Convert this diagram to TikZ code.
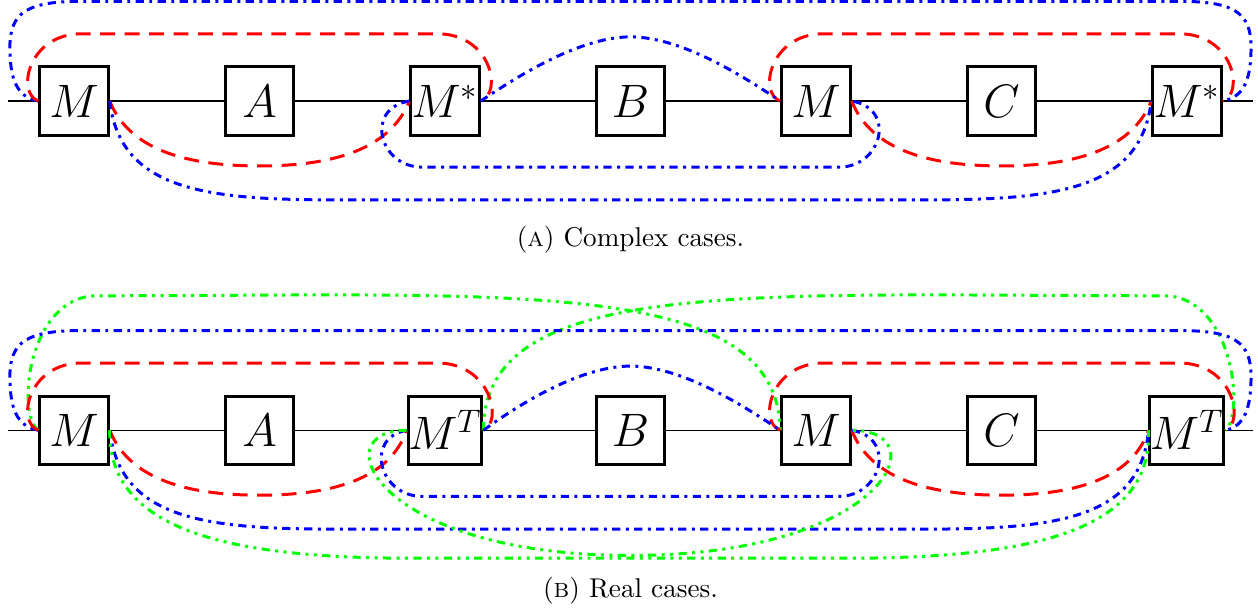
\documentclass[tikz,border=0pt]{standalone}
\begin{document}
\begin{tikzpicture}[x=1cm,y=1cm,
  tens/.style={draw,line width=1.1pt,minimum size=0.885cm,inner sep=0pt,font=\LARGE},
  redleg/.style={red,line width=1.1pt,dash pattern=on 5.5pt off 3.5pt},
  blueleg/.style={blue,line width=1.1pt,dashdotted},
  greenleg/.style={green,line width=1.1pt,dashdotdotted}]
\useasboundingbox (-0.958,-6.60) rectangle (15.32,1.307);
% (a) complex cases
\coordinate (cl) at (-0.86,0); \coordinate (cr) at (15.26,0);
\node[tens] (cm1) at (0,0) {$M$};
\node[tens] (ca) at (2.4,0) {$A$};
\node[tens] (cs1) at (4.8,0) {$M^*$};
\node[tens] (cb) at (7.2,0) {$B$};
\node[tens] (cm2) at (9.6,0) {$M$};
\node[tens] (cc) at (12.0,0) {$C$};
\node[tens] (cs2) at (14.4,0) {$M^*$};
\draw[line width=0.5pt] (cl) -- (cm1) -- (ca) -- (cs1) -- (cb) -- (cm2) -- (cc) -- (cs2) -- (cr);
% over the top
\draw[blueleg] (cm1.west) .. controls (-0.75,0.05) and (-0.83,0.3) .. (-0.83,0.7) .. controls (-0.83,1.15) and (-0.6,1.29) .. (0.1,1.29) -- (14.3,1.29) .. controls (15.0,1.29) and (15.23,1.15) .. (15.23,0.7) .. controls (15.23,0.3) and (15.15,0.05) .. (cs2.east);
\draw[redleg] (cm1.west) .. controls (-0.75,0.1) and (-0.6,0.87) .. (0.1,0.87) -- (4.7,0.87) .. controls (5.4,0.87) and (5.55,0.1) .. (cs1.east);
\draw[redleg] (cm2.west) .. controls (8.85,0.1) and (9.0,0.87) .. (9.7,0.87) -- (14.3,0.87) .. controls (15.0,0.87) and (15.15,0.1) .. (cs2.east);
\draw[blueleg] (cs1.east) .. controls (5.64,0.25) and (6.5,0.83) .. (7.2,0.83) .. controls (7.9,0.83) and (8.76,0.25) .. (cm2.west);
% underneath
\draw[redleg] (cm1.east) .. controls (0.72,-0.65) and (1.5,-0.84) .. (2.4,-0.84) .. controls (3.3,-0.84) and (4.08,-0.65) .. (cs1.west);
\draw[redleg] (cm2.east) .. controls (10.32,-0.65) and (11.1,-0.84) .. (12.0,-0.84) .. controls (12.9,-0.84) and (13.68,-0.65) .. (cs2.west);
\draw[blueleg] (cs1.west) .. controls (3.75,-0.1) and (3.95,-0.855) .. (4.5,-0.855) -- (9.9,-0.855) .. controls (10.45,-0.855) and (10.65,-0.1) .. (cm2.east);
\draw[blueleg] (cm1.east) .. controls (0.6,-1.2) and (1.8,-1.28) .. (3.5,-1.28) -- (10.9,-1.28) .. controls (12.6,-1.28) and (13.8,-1.2) .. (cs2.west);
\node (capa) at (7.2,-1.80) {(\textsc{a}) Complex cases.};
% (b) real cases
\begin{scope}[yshift=-4.26cm]
\coordinate (rl) at (-0.86,0); \coordinate (rr) at (15.26,0);
\node[tens] (rm1) at (0,0) {$M$};
\node[tens] (ra) at (2.4,0) {$A$};
\node[tens] (rt1) at (4.8,0) {$M^T$};
\node[tens] (rb) at (7.2,0) {$B$};
\node[tens] (rm2) at (9.6,0) {$M$};
\node[tens] (rc) at (12.0,0) {$C$};
\node[tens] (rt2) at (14.4,0) {$M^T$};
\draw[line width=0.5pt] (rl) -- (rm1) -- (ra) -- (rt1) -- (rb) -- (rm2) -- (rc) -- (rt2) -- (rr);
% over the top
\draw[greenleg] (rm1.west) .. controls (-0.75,0.2) and (-0.6,1.74) .. (0.3,1.74) .. controls (5.6,1.74) and (9.1,2.0) .. (rm2.west);
\draw[greenleg] (rt1.east) .. controls (5.3,2.0) and (8.8,1.74) .. (14.1,1.74) .. controls (15.0,1.74) and (15.15,0.2) .. (rt2.east);
\draw[blueleg] (rm1.west) .. controls (-0.75,0.05) and (-0.83,0.3) .. (-0.83,0.7) .. controls (-0.83,1.15) and (-0.6,1.29) .. (0.1,1.29) -- (14.3,1.29) .. controls (15.0,1.29) and (15.23,1.15) .. (15.23,0.7) .. controls (15.23,0.3) and (15.15,0.05) .. (rt2.east);
\draw[redleg] (rm1.west) .. controls (-0.75,0.1) and (-0.6,0.87) .. (0.1,0.87) -- (4.7,0.87) .. controls (5.4,0.87) and (5.55,0.1) .. (rt1.east);
\draw[redleg] (rm2.west) .. controls (8.85,0.1) and (9.0,0.87) .. (9.7,0.87) -- (14.3,0.87) .. controls (15.0,0.87) and (15.15,0.1) .. (rt2.east);
\draw[blueleg] (rt1.east) .. controls (5.64,0.25) and (6.5,0.83) .. (7.2,0.83) .. controls (7.9,0.83) and (8.76,0.25) .. (rm2.west);
% underneath
\draw[redleg] (rm1.east) .. controls (0.72,-0.65) and (1.5,-0.84) .. (2.4,-0.84) .. controls (3.3,-0.84) and (4.08,-0.65) .. (rt1.west);
\draw[redleg] (rm2.east) .. controls (10.32,-0.65) and (11.1,-0.84) .. (12.0,-0.84) .. controls (12.9,-0.84) and (13.68,-0.65) .. (rt2.west);
\draw[blueleg] (rt1.west) .. controls (3.75,-0.1) and (3.95,-0.855) .. (4.5,-0.855) -- (9.9,-0.855) .. controls (10.45,-0.855) and (10.65,-0.1) .. (rm2.east);
\draw[blueleg] (rm1.east) .. controls (0.6,-1.2) and (1.8,-1.28) .. (3.5,-1.28) -- (10.9,-1.28) .. controls (12.6,-1.28) and (13.8,-1.2) .. (rt2.west);
\draw[greenleg] (rm1.east) .. controls (0.44,-1.3) and (2.0,-1.656) .. (4.4,-1.656) -- (10.0,-1.656) .. controls (12.4,-1.656) and (13.96,-1.3) .. (rt2.west);
\draw[greenleg] (rt1.west) .. controls (3.2,0) and (3.9,-1.62) .. (7.2,-1.62) .. controls (10.5,-1.62) and (11.2,0) .. (rm2.east);
\node (capb) at (7.2,-2.07) {(\textsc{b}) Real cases.};
\end{scope}
\end{tikzpicture}
\end{document}
